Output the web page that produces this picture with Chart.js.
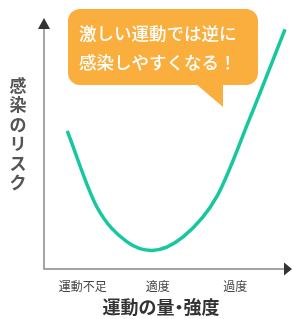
<!DOCTYPE html>
<html>
<head>
<meta charset="utf-8">
<script src="https://cdn.jsdelivr.net/npm/chart.js@4"></script>
<style>
  html, body { margin: 0; padding: 0; background: #fff; }
  #wrap { width: 292px; height: 319px; position: relative; }
</style>
</head>
<body>
<div id="wrap"><canvas id="riskChart"></canvas></div>
<script>
// amount of exercise (0-100) and infection risk (0-100)
const exerciseLevel = [9.6, 21.8, 34.2, 44.6, 57.6, 71.4, 85.1, 99.6];
const infectionRisk = [55.0, 24.8, 10.9, 7.4, 12.9, 28.8, 60.2, 95.5];
const tickValues = [16, 47, 79];
const tickLabels = ['運動不足', '適度', '過度'];
const xTitle = '運動の量・強度';
const yTitle = '感染のリスク';
const calloutLines = ['激しい運動では逆に', '感染しやすくなる！'];

const FONT = '"Noto Sans CJK JP", "Noto Sans", sans-serif';

const points = exerciseLevel.map((x, i) => ({ x: x, y: infectionRisk[i] }));

// axes with arrow heads, the two axis titles and the speech bubble
const decorations = {
    id: 'decorations',
    beforeDatasetsDraw(chart) {
        const { ctx, chartArea: a } = chart;
        ctx.save();
        ctx.strokeStyle = '#888';
        ctx.lineWidth = 1.5;
        ctx.beginPath();
        ctx.moveTo(a.left, a.top + 8);
        ctx.lineTo(a.left, a.bottom);
        ctx.lineTo(a.right, a.bottom);
        ctx.stroke();

        ctx.fillStyle = '#333';
        ctx.beginPath();
        ctx.moveTo(a.left, a.top);
        ctx.lineTo(a.left - 6, a.top + 11);
        ctx.lineTo(a.left + 6, a.top + 11);
        ctx.closePath();
        ctx.fill();
        ctx.beginPath();
        ctx.moveTo(a.right + 6, a.bottom);
        ctx.lineTo(a.right - 2, a.bottom - 6.5);
        ctx.lineTo(a.right - 2, a.bottom + 6.5);
        ctx.closePath();
        ctx.fill();

        // stacked vertical title
        ctx.fillStyle = '#555';
        ctx.font = 'bold 17px ' + FONT;
        ctx.textAlign = 'center';
        ctx.textBaseline = 'middle';
        [...yTitle].forEach((ch, i) => {
            ctx.fillText(ch, 18, 85.5 + i * 19.4);
        });

        // x title, the middle dot set tight like in proportional Japanese type
        ctx.fillStyle = '#333';
        ctx.font = 'bold 18px ' + FONT;
        ctx.textAlign = 'left';
        const chars = [...xTitle];
        const widths = chars.map(ch => ch === '・' ? 9 : 18);
        let x = 161 - widths.reduce((s, w) => s + w, 0) / 2;
        chars.forEach((ch, i) => {
            const dx = ch === '・' ? -4.5 : 0;
            ctx.fillText(ch, x + dx, 307);
            x += widths[i];
        });
        ctx.restore();
    },
    afterDatasetsDraw(chart) {
        const { ctx } = chart;
        ctx.save();
        ctx.fillStyle = '#F9AE3D';
        ctx.beginPath();
        ctx.roundRect(68, 9, 190, 76, 12);
        ctx.fill();
        ctx.beginPath();
        ctx.moveTo(196, 84);
        ctx.lineTo(223, 84);
        ctx.lineTo(223, 107);
        ctx.closePath();
        ctx.fill();

        ctx.fillStyle = '#fff';
        ctx.font = '500 17.5px ' + FONT;
        ctx.textAlign = 'left';
        ctx.textBaseline = 'middle';
        ctx.fillText(calloutLines[0], 79, 33);
        ctx.fillText(calloutLines[1], 79, 62);
        ctx.restore();
    }
};

new Chart(document.getElementById('riskChart'), {
    type: 'line',
    data: {
        datasets: [{
            data: points,
            borderColor: '#17C79E',
            borderWidth: 3.5,
            pointRadius: 0,
            fill: false,
            cubicInterpolationMode: 'monotone',
            clip: false
        }]
    },
    options: {
        responsive: true,
        maintainAspectRatio: false,
        animation: false,
        layout: { padding: { left: 44, right: 6, top: 18, bottom: 0 } },
        plugins: {
            legend: { display: false },
            tooltip: { enabled: false }
        },
        scales: {
            x: {
                type: 'linear',
                min: 0,
                max: 100,
                grid: { display: false, drawTicks: false },
                border: { display: false },
                afterBuildTicks: (scale) => {
                    scale.ticks = tickValues.map(v => ({ value: v }));
                },
                afterFit: (scale) => { scale.height = 50; },
                ticks: {
                    autoSkip: false,
                    maxRotation: 0,
                    padding: 10,
                    color: '#444',
                    font: { family: FONT, size: 12 },
                    callback: (value) => tickLabels[tickValues.indexOf(value)]
                }
            },
            y: {
                display: false,
                min: 0,
                max: 100
            }
        }
    },
    plugins: [decorations]
});
</script>
</body>
</html>
